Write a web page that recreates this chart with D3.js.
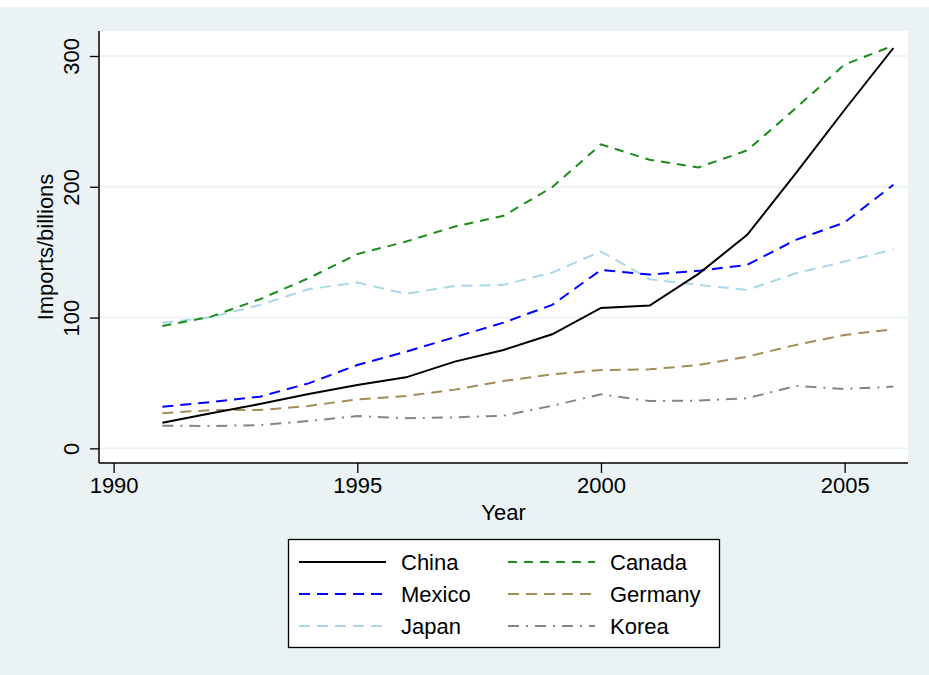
<!DOCTYPE html>
<html>
<head>
<meta charset="utf-8">
<script src="https://cdn.jsdelivr.net/npm/d3@7"></script>
<style>
  html, body { margin:0; padding:0; background:#fff; }
  svg { display:block; font-family:"Liberation Sans", Arial, Helvetica, sans-serif; }
</style>
</head>
<body>
<svg id="chart" width="929" height="675"></svg>
<script>
// imports by partner country, billions
const years   = [1991,1992,1993,1994,1995,1996,1997,1998,1999,2000,2001,2002,2003,2004,2005,2006];
const china   = [19.6,26.8,33.9,41.5,48.4,54.3,66.3,75.2,87.2,107.4,109.2,133.4,163.2,210.4,258.9,306.1];
const canada  = [93.6,100.7,114.0,130.1,148.5,158.1,169.6,177.8,199.7,232.4,220.6,214.8,227.8,260.2,293.5,307.9];
const mexico  = [31.8,35.4,39.5,49.7,63.7,73.9,85.0,96.1,109.7,136.4,132.9,135.7,140.3,159.4,172.7,201.5];
const germany = [26.8,29.3,29.3,32.4,37.5,40.0,44.9,51.5,56.6,59.9,60.4,63.7,70.1,79.1,86.7,91.1];
const japan   = [96.1,100.2,109.7,121.7,126.8,118.1,124.2,125.0,134.4,150.5,129.3,125.0,121.1,133.9,142.8,152.0];
const korea   = [17.3,17.1,17.8,20.9,24.7,23.0,23.7,25.0,32.6,41.3,36.2,36.5,38.3,47.7,45.4,47.2];

const xTicks = [1990,1995,2000,2005];
const yTicks = [0,100,200,300];

const series = [
  {name:"China",   values:china,   color:"#000000", dash:null},
  {name:"Canada",  values:canada,  color:"#1a8c1a", dash:"9,7"},
  {name:"Mexico",  values:mexico,  color:"#0000ff", dash:"11,7"},
  {name:"Germany", values:germany, color:"#a38c5a", dash:"11,7"},
  {name:"Japan",   values:japan,   color:"#a9d8e8", dash:"11,7"},
  {name:"Korea",   values:korea,   color:"#858585", dash:"11,7,2,7"}
];

const svg = d3.select("#chart");
const BG = "#eaf2f3";

// stata-ish outer background (top strip stays white)
svg.append("rect").attr("x",0).attr("y",7).attr("width",929).attr("height",668).attr("fill",BG);

const L = 99, R = 908, T = 31, B = 463;
svg.append("rect").attr("x",L).attr("y",T).attr("width",R-L).attr("height",B-T).attr("fill","#fff");

const x = d3.scaleLinear().domain([1989.7, 2006.3]).range([L, R]);
const y = d3.scaleLinear().domain([-11.2, 319.1]).range([B, T]);

// gridlines
svg.append("g").selectAll("line").data(yTicks).join("line")
  .attr("x1",L).attr("x2",R)
  .attr("y1",d=>y(d)).attr("y2",d=>y(d))
  .attr("stroke",BG).attr("stroke-width",1.6);

// axes
const FS = 22;
const yAxis = svg.append("g").attr("transform",`translate(${L},0)`)
  .call(d3.axisLeft(y).tickValues(yTicks).tickSize(9).tickSizeOuter(0).tickPadding(0));
yAxis.select(".domain").remove();
yAxis.selectAll(".tick line").attr("stroke","#000").attr("stroke-width",1.3);
yAxis.selectAll(".tick text").remove();
yAxis.selectAll(".tick").append("text")
  .attr("transform","translate(-20,0) rotate(-90)")
  .attr("text-anchor","middle").attr("fill","#000")
  .style("font-size",FS+"px").text(d=>d);
svg.append("line").attr("x1",L).attr("x2",L).attr("y1",T).attr("y2",B)
  .attr("stroke","#000").attr("stroke-width",1.5);

const xAxis = svg.append("g").attr("transform",`translate(0,${B})`)
  .call(d3.axisBottom(x).tickValues(xTicks).tickFormat(d3.format("d")).tickSize(10).tickSizeOuter(0).tickPadding(5));
xAxis.select(".domain").remove();
xAxis.selectAll(".tick line").attr("stroke","#000").attr("stroke-width",1.3);
xAxis.selectAll(".tick text").attr("fill","#000").style("font-size",FS+"px").attr("dy","0.70em");
svg.append("line").attr("x1",L).attr("x2",R).attr("y1",B).attr("y2",B)
  .attr("stroke","#000").attr("stroke-width",1.5);

// axis titles
svg.append("text").attr("transform",`translate(53,${(T+B)/2}) rotate(-90)`)
  .attr("text-anchor","middle").style("font-size",FS+"px").text("Imports/billions");
svg.append("text").attr("x",(L+R)/2).attr("y",520)
  .attr("text-anchor","middle").style("font-size",FS+"px").text("Year");

// lines
const line = d3.line().x((d,i)=>x(years[i])).y(d=>y(d));
const drawOrder = ["Korea","Germany","Japan","Mexico","Canada","China"];
svg.append("g").selectAll("path").data(drawOrder.map(n=>series.find(s=>s.name===n))).join("path")
  .attr("d",s=>line(s.values))
  .attr("fill","none")
  .attr("stroke",s=>s.color)
  .attr("stroke-width",2)
  .attr("stroke-dasharray",s=>s.dash);

// legend
const lg = svg.append("g");
lg.append("rect").attr("x",288.5).attr("y",539.5).attr("width",431).attr("height",108)
  .attr("fill","#fff").attr("stroke","#000").attr("stroke-width",1.3);
const rowY = [562,594,626];
const colX = [299,508];
series.forEach((s,i)=>{
  const cx = colX[i%2], cy = rowY[Math.floor(i/2)];
  lg.append("line").attr("x1",cx).attr("x2",cx+87).attr("y1",cy).attr("y2",cy)
    .attr("stroke",s.color).attr("stroke-width",2).attr("stroke-dasharray",s.dash);
  lg.append("text").attr("x",cx+102).attr("y",cy).attr("dy","0.35em")
    .style("font-size",FS+"px").text(s.name);
});
</script>
</body>
</html>
